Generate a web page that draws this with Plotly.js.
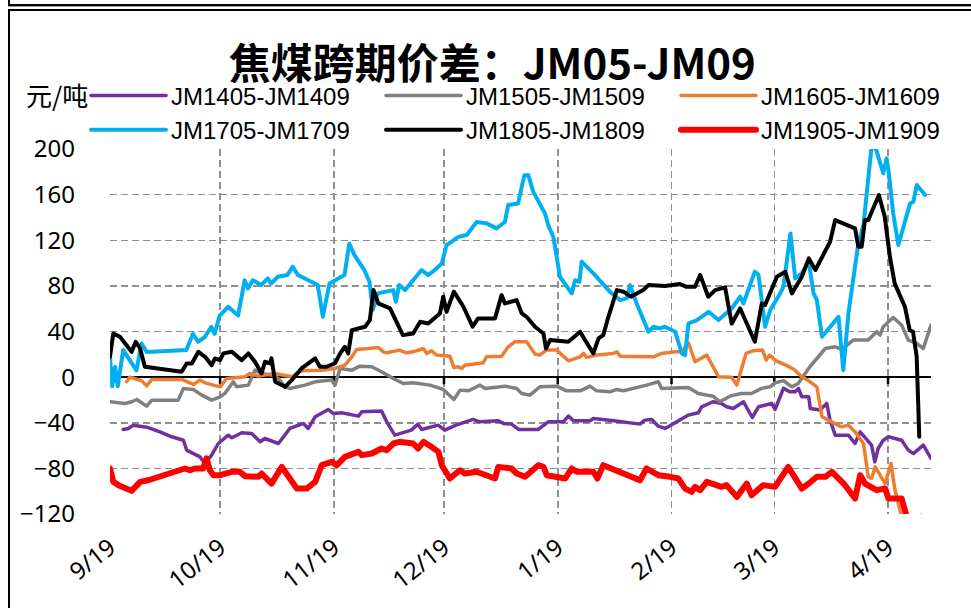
<!DOCTYPE html>
<html><head><meta charset="utf-8">
<script src="https://cdn.plot.ly/plotly-3.0.1.min.js"></script>
<style>
html,body{margin:0;padding:0;background:#fff;}
#wrap{position:relative;width:971px;height:608px;overflow:hidden;}
#chart{width:971px;height:608px;}
.frame{position:absolute;background:#000;pointer-events:none;}
.js-line{stroke-linejoin:round;stroke-linecap:round;}
</style></head><body>
<div id="wrap"><div id="chart"></div>
<div class="frame" style="left:8px;top:0;width:2px;height:6px"></div>
<div class="frame" style="left:8px;top:4px;width:963px;height:2px"></div>
<div class="frame" style="left:8px;top:6px;width:963px;height:1px;background:#999"></div>
<div class="frame" style="left:8px;top:9px;width:963px;height:2px"></div>
<div class="frame" style="left:8px;top:9px;width:2px;height:599px"></div>
</div>
<script>
// x = trading days counted from 9/19
const tickDays = [0, 30, 61, 91, 122, 153, 181, 212];
const tickLabels = ['9/19', '10/19', '11/19', '12/19', '1/19', '2/19', '3/19', '4/19'];
const yTicks = [-120, -80, -40, 0, 40, 80, 120, 160, 200];
const yTickText = ['\u2212120', '\u221280', '\u221240', '0', '40', '80', '120', '160', '200'];

const seriesNames = ['JM1405-JM1409', 'JM1505-JM1509', 'JM1605-JM1609', 'JM1705-JM1709', 'JM1805-JM1809', 'JM1905-JM1909'];

const jm14Day = [3.6,5,6.4,10.4,13.6,16.8,20,20.9,24.5,25.9,27.7,29.5,32.2,33.2,35.9,38.6,40.9,42.2,45.9,49,52.7,54,55.9,59.5,60.9,63.1,67.7,68.6,74,75.4,77.6,82.1,83.9,84.9,89.4,91.2,94.3,98.9,100.7,105.8,107.2,109.4,111.3,116.7,119.4,123.5,124.9,126.3,130.8,131.7,137.3,144.4,145.7,147.6,149.4,151.2,152.1,157.6,160.3,161.2,164.3,166.6,168,169.8,172.6,175,176.7,178.5,180.3,181.2,182.6,183.5,185.3,186.7,187.6,188.5,190.4,190.8,193.5,195.3,196.2,197.6,201.2,203,204.4,207.5,208.4,209.3,210.7,212.1,215.7,217.5,218.9,221.6,223.7];
const jm14Val = [-45.9,-45,-42.1,-44.2,-48,-52.3,-55.3,-64,-69.9,-75.7,-68.4,-58.2,-50.9,-53.2,-48.8,-49.4,-56.7,-53.8,-58.2,-45,-40.6,-45,-34.8,-28.4,-31.9,-31.3,-34.2,-30.4,-29.8,-39.2,-50.9,-46.5,-41.2,-45.9,-42.1,-46.5,-42.1,-37.1,-39.2,-38.3,-40.6,-41.2,-45.9,-45.9,-39.2,-39.2,-34.2,-38.3,-38.3,-36.3,-38.3,-41.2,-37.7,-37.1,-43,-45,-43.6,-33.3,-31.3,-26,-21.6,-23.1,-26,-27.5,-21.6,-35.4,-26,-24.6,-23.1,-28.4,-17.3,-9.9,-12.9,-12.9,-9.9,-17.3,-17.3,-27.5,-28.9,-23.1,-37.7,-50.9,-50.9,-58.2,-48,-59.6,-74.3,-62.6,-55.3,-52.3,-55.3,-64,-67,-59.6,-71.3];

const jm15Day = [0,4.1,5.9,7.3,10,11.4,18.6,20,22.7,25,27.7,30,31.3,33.6,34.5,37.7,39.5,41.3,44,45.9,47.7,49,53.1,55.9,60.4,61.3,62.7,65.9,68.1,71.3,74,75.4,77.2,79.9,82.6,87.2,90.8,93.7,95.4,97.7,100.8,102.2,107.6,110.8,112.2,114.4,117.1,121.7,124.4,128.1,130.8,132.6,136.2,138.1,139.9,146.2,148.5,149.4,150.3,157.6,160.3,164.3,166.2,168.9,172,174.8,177.5,179.8,181.2,183.5,185.8,187.5,190.7,193.9,194.9,197.6,199.4,202.5,206.6,208.9,209.8,210.7,213.4,215.7,217.5,219.8,221.6,223.7];
const jm15Val = [-21.6,-23.1,-21.6,-19.6,-25.4,-20.2,-20.2,-9.9,-10.8,-15.8,-20.2,-17.3,-14.3,-4.1,-8.5,-7,6.1,3.2,1.8,-1.2,-8.5,-9.9,-7,-4.1,-2.6,-7,7.6,6.1,9.6,9.1,4.7,1.8,-1.2,-5.6,-5,-7,-10.8,-19.6,-11.4,-12,-7,-9.9,-7.9,-9.9,-14.3,-15.8,-8.5,-7.9,-12,-12,-7.9,-12,-12.9,-10.8,-12,-7,-5,-4.1,-9.9,-9.1,-14.3,-16.7,-21.6,-16.7,-14.3,-14.3,-9.9,-8.5,-5,-3.2,-8.5,-5.6,9.1,20.8,25.1,26.6,24.3,32.5,32.5,39.8,36.8,44.2,52.3,45.6,32.5,29.5,25.1,45.6];

const jm16Day = [4.5,5.4,8.6,10,11.4,19.5,22.7,24.5,25.9,30,31.8,36.8,38.1,40.4,44.9,49.5,52.2,57.7,61.3,64,65.9,67.2,70.4,73.1,74.5,75.4,78.9,80.7,82.6,85.4,86.3,87.6,89,92.6,93.7,94.9,95.8,96.7,101.7,102.6,106.7,108.5,110.3,113.5,115.8,117.1,118.9,121.7,124.9,128.1,129,129.9,132.6,137.1,138.1,139,148.1,150.3,154,155.8,157.6,159.4,162.6,165.8,169.4,170.8,173.3,175.1,177.8,178.8,179.7,181.5,184.2,186.4,188.5,190.4,192.6,194,195.7,199.3,201.2,203.4,205.3,206.6,207.5,208.5,211.2,212.8,213.9,215.7,218,221,223.7];
const jm16Val = [-4,0,-3.2,-7.6,-2,-2,-6.4,-2.6,-5,-8.5,-1.2,0.3,3.2,0.9,3.2,0.3,5.6,6.1,7.6,10.5,17.8,24.3,25.1,26,22.2,21.3,23.7,21.3,22.2,25.1,20.8,23.1,19.3,18.4,8.5,9.1,7.6,10.5,12.6,17.8,18.4,26.6,31,31,20.2,19.3,23.7,23.7,14.3,17.8,20.8,17.3,19.3,20.8,22.2,18.4,17.8,20.8,22.2,22.2,30.1,13.5,19.3,0.3,0,-7,20.8,23.1,23.7,14.9,19.3,14.3,10.5,6.7,0.3,-3.2,-8.5,-34.8,-37.7,-43.6,-42.1,-49.4,-58.2,-87.4,-88.9,-78.7,-93.3,-75.7,-99.1,-122.5,-135,-121,-128];

const jm17Day = [0,0.6,1.4,2.1,3.6,5.9,7.2,8.6,10,20.8,22.6,24,25.8,27.6,28.5,29.9,32.2,34.9,36.7,37.6,38.9,41.2,43,43.9,45.7,48.3,49.8,51.2,53,56.6,58,59.8,63.9,65.2,66.6,69.3,70.7,71.6,72.9,76.1,77.2,77.9,78.8,80.4,82.6,84.9,86.7,88.5,90.4,91.7,93.1,94.9,97.2,99.9,102.6,105.3,107.6,108.5,111.2,112.9,114,115.3,118.5,119.4,120.8,122.6,125.8,126.7,127.9,128.5,131.7,136.2,139,140.8,141.7,143.5,146.7,148.1,149.9,151.2,154,155.8,156.7,157.6,159.9,163.1,165.8,169.4,171.7,172.6,175.7,176.7,178.5,179.9,182.6,183.5,185.4,186.7,188.5,190.4,191.7,192.6,194,198.5,199.8,201.2,203.9,205.3,207.6,208.8,210.7,211.6,212.1,213.4,214.8,216.2,218,218.9,219.8,222.1];
const jm17Val = [17.8,-8,9,-8,23.7,12,6,29.5,22,23.7,38,31,35,44,38,54,61.7,54,85,77.8,85,80.7,86.5,82,88,89.5,96.8,89.5,86.5,80.7,53,82,89.5,117,107,93.9,83.6,58.8,73.4,74.9,76.3,66,80.7,76.3,85,93.9,89.5,93.9,99.7,115.8,118.7,123,124.6,136,134.8,130.4,136,150.9,152.3,177,177,162.6,143.6,133.3,123,88,73.4,85,83.6,101.2,91,74.9,67.5,69,80.7,64.6,39.8,44.2,42.7,44.2,39.8,20.8,19.3,47,50,57.3,50,60.2,70.5,64.6,92.4,89.5,44.2,58.8,73.4,79.2,126,86.5,91,101.2,73.4,67.5,35.4,52.9,6.1,55.8,117.3,133.3,205,199,178.7,191.8,181.6,143.6,115.8,131.9,152.3,153.8,168.4,159.6];

const jm18Day = [0,0.9,2.7,5.9,7,8.2,9.5,19.5,20.9,22.3,24.1,25.9,27.7,28.6,30,30.9,33.2,35.9,37.7,39.5,41.3,42.2,43.6,44,45,47.7,49.5,52.2,55.9,57.2,59,61.3,62.7,64,64.9,65.9,69.5,70.8,71.8,73.1,76.3,78.1,79.8,82.6,84.5,86.7,89.9,90.8,91.7,93.7,96.3,98.8,100.3,104.9,106.7,107.6,110.8,112.2,113.5,115.8,118.1,118.8,119.9,124.9,128.1,129.4,131.7,133.1,134.4,135.8,138.1,139.9,141.9,145.3,146.7,151.2,155.3,157.1,159.4,160.8,163,164.9,167.6,169.4,171.7,175.7,177.6,178.5,181.7,184,185.8,188.5,190.4,192.2,196.2,197.6,203,203.9,204.8,205.7,206.6,209.5,211.1,212.5,213.8,216.6,217.9,218.8,219.8,220.5];
const jm18Val = [17.8,38.3,35.4,22.2,31,25.1,9.1,4.7,12,12,22.2,17.8,10.5,16.4,14.9,20.8,22.2,14.9,20.8,13.5,3.2,13.5,12,16.4,-4,-8.5,-2.6,7.6,16.4,9.1,9.1,12,20.8,26.6,20.8,41.2,44.2,50,76.3,64.6,60.2,48.5,36.8,38.3,48.5,47,55.8,70.5,57.3,74.9,61.7,44.2,51.5,51.5,71.9,64.6,67.5,55.8,52.9,44.2,38.3,25.1,32.5,31,39.8,32.5,20.8,33.9,36.8,52.9,76.3,74.9,70.5,76.3,80.7,79.8,81.6,79.2,79.2,89.5,70.5,76.3,78.7,47,60.2,31,64.6,63.2,88,92.4,73.4,88,104.1,93.9,118.7,137.7,130.4,114.3,114.3,137.7,137.7,159.6,140.6,105.6,82.2,61.7,41.2,39.8,17.8,-52.3];

const jm19Day = [0,0.9,2.3,5.9,8.2,10.4,20.4,21.8,23.2,25.4,26.3,27.2,28.2,30,33.2,35.4,36.8,40.4,41.3,44,46.8,48.6,50.9,53.6,54.9,55.9,57.7,60.4,61.8,64,67.7,68.6,71.3,74,75.4,77.2,78.9,82.6,83.9,85.4,87.6,89.5,90.4,92.6,95.4,96.7,99.9,104.9,105.8,109.4,110.8,113.1,116.7,118.1,119,124,125.8,127.2,131.7,132.8,134.4,144.4,146.2,149.4,152.6,154.9,156.7,158.5,159.4,160.8,162.6,166.6,168,169.4,170.8,173.5,174.8,178,181.2,184.8,188.5,190.4,192.6,194.9,196.7,199.9,203,204.4,205.7,208.9,211.2,212.1,215.7,217.1,220];
const jm19Val = [-80.1,-91.8,-94.7,-99.7,-91.8,-90.4,-80.1,-81.6,-80.1,-80.1,-71.3,-81.6,-86,-86,-83,-83,-86.8,-87.4,-84.5,-93.3,-78.7,-87.4,-97.7,-97.7,-93.3,-91.8,-77.2,-74.3,-77.2,-69.9,-65.5,-68.4,-67,-62.6,-64,-58.2,-56.7,-58.2,-62.6,-56.7,-61.1,-65.5,-77.2,-88.9,-81.6,-84.5,-83,-88.9,-78.7,-80.1,-84.5,-87.4,-77.2,-78.7,-86,-88.9,-80.1,-83,-83,-88.9,-77.2,-90.4,-80.1,-86,-87.4,-88.9,-97.7,-100.6,-96.2,-99.1,-91.8,-96.2,-94.7,-99.1,-105,-93.3,-103.5,-94.7,-96.2,-78.7,-97.7,-93.3,-87.4,-87.4,-83,-93.3,-106.4,-86,-93.3,-99.1,-97.7,-106.4,-106.4,-122.5,-145];

const xs = [jm14Day, jm15Day, jm16Day, jm17Day, jm18Day, jm19Day];
const ys = [jm14Val, jm15Val, jm16Val, jm17Val, jm18Val, jm19Val];
const colors = ['#7030A0', '#808080', '#ED7D31', '#00B0F0', '#000000', '#FF0000'];
const widths = [3.5, 3.5, 3.5, 4, 4, 6];

const traces = [];
// small black tick marks hanging below the zero axis at each month gridline
traces.push({type: 'scatter', mode: 'markers', x: tickDays, y: tickDays.map(() => 0),
  marker: {opacity: 0, size: 1},
  error_y: {type: 'constant', symmetric: false, value: 0, valueminus: 6.2, width: 0, thickness: 2.5, color: '#000'},
  showlegend: false, hoverinfo: 'skip'});
seriesNames.forEach((n, i) => traces.push({
  type: 'scatter', mode: 'lines', name: n, x: xs[i], y: ys[i],
  line: {color: colors[i], width: widths[i]}, hoverinfo: 'skip'
}));

const tickFont = {family: 'Noto Sans', size: 24, color: '#000'};
const gridStyle = {showgrid: true, gridcolor: '#909090', gridwidth: 1.5, griddash: '7px,4px'};

const layout = {
  width: 971, height: 608,
  margin: {l: 110, r: 40, t: 149, b: 94, pad: 0},
  paper_bgcolor: '#ffffff', plot_bgcolor: '#ffffff',
  title: {text: '焦煤跨期价差：JM05-JM09', xref: 'container', yref: 'container',
    x: 0.507, xanchor: 'center', y: 0.894, yanchor: 'middle',
    font: {family: '"Noto Sans CJK SC", sans-serif', size: 42, weight: 700, color: '#000'}},
  showlegend: true,
  legend: {orientation: 'h', x: -0.0132, xanchor: 'left', y: 1.207, yanchor: 'top',
    font: {family: 'Liberation Sans', size: 24, color: '#000'}, entrywidth: 205, entrywidthmode: 'pixels',
    itemwidth: 75, bgcolor: 'rgba(0,0,0,0)', tracegroupgap: 0},
  xaxis: Object.assign({range: [0, 223.7], tickmode: 'array', tickvals: tickDays, ticktext: tickLabels,
    tickangle: -38, tickfont: tickFont, ticklabelstandoff: 14, zeroline: false, showline: false, ticks: '',
    fixedrange: true}, gridStyle),
  yaxis: Object.assign({range: [-120, 200], tickmode: 'array', tickvals: yTicks, ticktext: yTickText,
    tickfont: tickFont, zeroline: true, zerolinecolor: '#000', zerolinewidth: 2.5,
    showline: false, ticks: '', ticklabelstandoff: 34, fixedrange: true}, gridStyle),
  annotations: [{text: '元/吨', xref: 'paper', yref: 'paper', x: -0.0646, y: 1.15,
    xanchor: 'center', yanchor: 'middle', showarrow: false,
    font: {family: '"Noto Sans CJK SC", sans-serif', size: 26, color: '#000'}}]
};

Plotly.newPlot('chart', traces, layout, {displayModeBar: false, staticPlot: true});
</script>
</body></html>
